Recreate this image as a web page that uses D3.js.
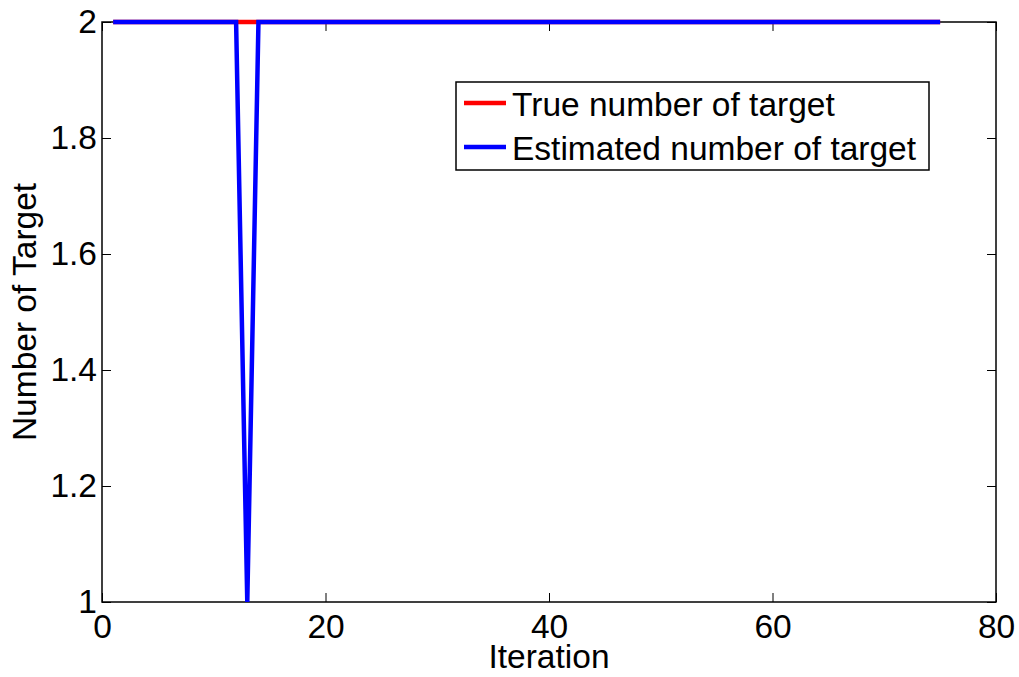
<html>
<script src='https://cdn.jsdelivr.net/npm/d3@7'></script>
<body style="margin:0;background-color:white;">
<svg id="chart" width="1019" height="677"></svg>
<script>

// data
const iterations = [1,2,3,4,5,6,7,8,9,10,11,12,13,14,15,16,17,18,19,20,21,22,23,24,25,
    26,27,28,29,30,31,32,33,34,35,36,37,38,39,40,41,42,43,44,45,46,47,48,49,50,
    51,52,53,54,55,56,57,58,59,60,61,62,63,64,65,66,67,68,69,70,71,72,73,74,75];
const trueCount = [2,2,2,2,2,2,2,2,2,2,2,2,2,2,2,2,2,2,2,2,2,2,2,2,2,
    2,2,2,2,2,2,2,2,2,2,2,2,2,2,2,2,2,2,2,2,2,2,2,2,2,
    2,2,2,2,2,2,2,2,2,2,2,2,2,2,2,2,2,2,2,2,2,2,2,2,2];
const estCount = [2,2,2,2,2,2,2,2,2,2,2,2,1,2,2,2,2,2,2,2,2,2,2,2,2,
    2,2,2,2,2,2,2,2,2,2,2,2,2,2,2,2,2,2,2,2,2,2,2,2,2,
    2,2,2,2,2,2,2,2,2,2,2,2,2,2,2,2,2,2,2,2,2,2,2,2,2];
const xTicks = [0, 20, 40, 60, 80];
const yTicks = [1, 1.2, 1.4, 1.6, 1.8, 2];
const seriesNames = ["True number of target", "Estimated number of target"];
const seriesColors = ["#ff0000", "#0000ff"];

function init() {
    const margin = { top: 22, right: 23, bottom: 75, left: 102 };
    const width = 1019, height = 677;

    const svg = d3.select('#chart');
    const font = "Liberation Sans, Arial, sans-serif";
    const fontSize = 33.5;

    const x = d3.scaleLinear().domain([0, 80]).range([margin.left, width - margin.right]);
    const y = d3.scaleLinear().domain([1, 2]).range([height - margin.bottom, margin.top]);

    // box
    svg.append("rect")
        .attr("x", x(0)).attr("y", y(2))
        .attr("width", x(80) - x(0)).attr("height", y(1) - y(2))
        .attr("fill", "none").attr("stroke", "black").attr("stroke-width", 1.5);

    // axes, ticks inward on all four sides
    const tickLen = 9;
    const gBottom = svg.append("g").attr("transform", `translate(0,${y(1)})`)
        .call(d3.axisBottom(x).tickValues(xTicks).tickSizeInner(-tickLen).tickSizeOuter(0).tickPadding(12));
    const gTop = svg.append("g").attr("transform", `translate(0,${y(2)})`)
        .call(d3.axisTop(x).tickValues(xTicks).tickSizeInner(-tickLen).tickSizeOuter(0).tickFormat(""));
    const gLeft = svg.append("g").attr("transform", `translate(${x(0)},0)`)
        .call(d3.axisLeft(y).tickValues(yTicks).tickSizeInner(-tickLen).tickSizeOuter(0).tickPadding(5).tickFormat(d3.format("")));
    const gRight = svg.append("g").attr("transform", `translate(${x(80)},0)`)
        .call(d3.axisRight(y).tickValues(yTicks).tickSizeInner(-tickLen).tickSizeOuter(0).tickFormat(""));

    [gBottom, gTop, gLeft, gRight].forEach(g => {
        g.select(".domain").remove();
        g.selectAll("line").attr("stroke", "black").attr("stroke-width", 1);
        g.selectAll("text").attr("font-family", font).attr("font-size", fontSize).attr("fill", "black");
    });

    // lines
    const line = vals => d3.line()
        .x((d, i) => x(iterations[i]))
        .y(d => y(d))(vals);

    [trueCount, estCount].forEach((vals, i) => {
        svg.append("path")
            .attr("d", line(vals))
            .attr("fill", "none")
            .attr("stroke", seriesColors[i])
            .attr("stroke-width", 4.5);
    });

    // axis labels
    svg.append("text")
        .attr("x", (x(0) + x(80)) / 2).attr("y", 668)
        .attr("text-anchor", "middle")
        .attr("font-family", font).attr("font-size", fontSize)
        .text("Iteration");

    svg.append("text")
        .attr("transform", `translate(36,${(y(1) + y(2)) / 2}) rotate(-90)`)
        .attr("text-anchor", "middle")
        .attr("font-family", font).attr("font-size", fontSize)
        .text("Number of Target");

    // legend
    const legend = svg.append("g");
    legend.append("rect")
        .attr("x", 456).attr("y", 82).attr("width", 473).attr("height", 88)
        .attr("fill", "white").attr("stroke", "black").attr("stroke-width", 1.5);

    seriesNames.forEach((name, i) => {
        const ly = 103 + i * 44;
        legend.append("line")
            .attr("x1", 464).attr("x2", 506).attr("y1", ly).attr("y2", ly)
            .attr("stroke", seriesColors[i]).attr("stroke-width", 4.5);
        legend.append("text")
            .attr("x", 512).attr("y", ly).attr("dy", "0.4em")
            .attr("font-family", font).attr("font-size", fontSize)
            .text(name);
    });
}

init();

</script>
</body>
</html>
